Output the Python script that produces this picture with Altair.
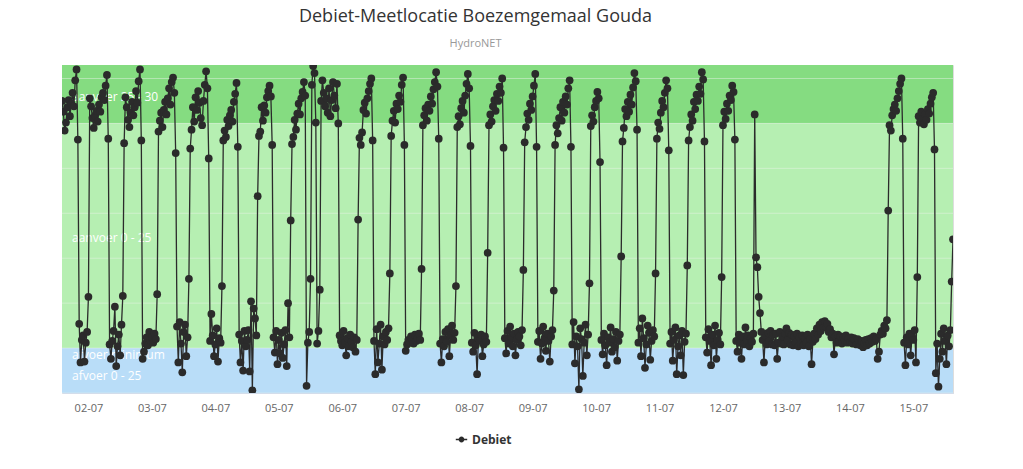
import altair as alt
import pandas as pd

# Debiet (m3/s), half-hourly, starting 01-07 14:00
day_01 = [27.5, 26.3, 24.2, 25.1, 26.8, 27.6, 25.8, 27.2, 28.4, 26.9, 29.8, 31.0,
          23.2, 2.7, -1.6, 0.9, 1.4, -1.5, 0.6, 1.8]
day_02 = [5.7, 27.8, 26.9, 25.6, 24.5, 25.9, 26.4, 25.2, 27.1, 26.3, 27.9, 28.4,
          27.6, 29.2, 30.4, 23.3, 0.4, -1.2, 0.8, 1.9, 4.6, -2.0, 0.2, 1.5,
          -0.8, 2.6, 5.8, 22.8, 27.9, 26.8, 25.4, 24.6, 26.2, 27.4, 25.9, 26.8,
          28.6, 27.3, 29.7, 31.0, 23.1, -1.2, -0.4, 0.5, 1.2, 0.3, 1.8, 0.9]
day_03 = [1.2, 0.6, 1.6, 1.0, 6.0, 24.1, 25.3, 26.2, 24.6, 26.5, 27.4, 26.0,
          27.8, 28.9, 27.1, 29.6, 30.1, 28.4, 21.7, 2.4, -1.6, 2.9, 0.5, -2.7,
          1.8, 2.6, -0.9, 1.2, 7.7, 22.2, 24.3, 26.8, 25.2, 27.9, 26.5, 28.6,
          27.3, 25.6, 24.8, 27.5, 29.3, 30.8, 28.9, 21.1, 0.8, 3.8, 1.4, -0.9]
day_04 = [0.4, 2.2, -1.5, 1.1, 0.6, 6.9, 23.1, 24.2, 23.5, 25.4, 24.7, 25.9,
          26.5, 25.2, 27.4, 28.3, 29.5, 22.4, 1.5, -1.6, 0.8, -2.5, 1.9, 0.2,
          0.9, 2.0, -2.6, 5.2, -4.7, 4.4, 3.3, 1.4, 16.9, 23.6, 24.1, 26.8,
          25.3, 27.0, 26.2, 27.9, 28.6, 29.2, 28.0, 22.6, 1.2, -0.5, 1.9, -1.8]
day_05 = [0.9, -0.6, 1.7, -1.1, 0.4, 2.0, -2.0, 5.0, 1.2, 14.2, 22.7, 23.5,
          25.4, 24.3, 26.1, 27.2, 26.0, 27.8, 28.5, 29.6, 28.1, -4.2, 0.6, 1.8,
          7.7, 29.3, 31.4, 30.6, 25.1, 0.5, 1.9, 6.5, 27.5, 29.8, 28.4, 26.9,
          27.8, 26.2, 28.9, 25.8, 27.6, 29.6, 28.1, 26.7, 29.4, 25.0, 1.4, 0.8]
day_06 = [0.3, 1.9, 0.6, -0.8, 1.1, 0.2, 1.5, 0.7, 0.1, 1.2, -0.4, 0.9,
          14.3, 23.4, 22.6, 24.0, 26.5, 27.3, 26.1, 27.8, 28.6, 29.4, 30.0, 23.1,
          0.8, -2.9, 2.1, -1.6, 0.5, 2.6, -2.4, 1.3, 0.4, 1.8, 0.9, 2.2,
          8.3, 23.6, 25.3, 26.4, 25.1, 27.2, 26.6, 28.1, 27.4, 29.3, 30.1, 22.6]
day_07 = [-0.3, 0.4, 0.9, 0.6, 1.3, 1.0, 0.5, 1.5, 0.8, 1.1, 1.6, 0.9,
          8.8, 24.8, 25.9, 26.7, 25.3, 27.1, 26.4, 28.0, 27.2, 28.8, 29.6, 30.7,
          29.1, 23.3, 0.5, -1.6, 1.0, 0.2, 1.8, 0.7, 2.1, -0.9, 1.4, 2.5,
          0.9, 1.7, 6.9, 24.6, 25.8, 24.9, 26.7, 27.5, 26.2, 28.1, 29.4, 30.5]
day_08 = [28.9, 22.5, 0.6, -0.4, 1.7, 0.3, -2.9, 1.1, 0.8, 1.5, -0.9, 0.4,
          1.3, 0.7, 10.6, 24.8, 26.0, 25.2, 26.9, 27.6, 26.4, 28.3, 27.5, 29.1,
          28.4, 30.0, 22.3, 1.1, -0.6, 1.9, 0.5, 2.4, 1.2, 0.2, 1.6, -0.8,
          0.9, 1.8, 1.3, 0.3, 2.0, 8.7, 22.9, 24.6, 26.1, 25.4, 27.2, 26.5]
day_09 = [28.0, 29.2, 30.5, 22.4, 0.7, 1.9, -1.2, 0.5, 2.4, 1.1, -0.3, 1.6,
          0.8, -1.5, 1.3, 2.0, 6.4, 22.6, 24.8, 23.9, 25.6, 26.8, 25.3, 27.4,
          26.2, 28.0, 27.1, 28.9, 29.8, 22.4, 0.4, 2.9, -1.7, 1.3, 0.2, -4.6,
          2.2, 1.0, -3.1, 0.6, 2.6, -0.8, 1.5, 7.2, 24.7, 25.9, 25.2, 26.8]
day_10 = [27.5, 28.5, 27.8, 20.7, 0.9, -0.7, 1.6, 0.3, -1.9, 1.2, 0.6, 2.3,
          -0.4, 1.0, 0.1, 1.8, -1.4, 0.8, 1.5, 10.2, 23.0, 24.5, 26.6, 25.8,
          27.4, 26.3, 28.2, 27.1, 29.0, 30.6, 29.7, 24.3, 0.6, 2.2, -0.9, 3.3,
          1.1, -2.2, 0.4, 2.5, 1.7, -1.3, 0.8, 2.0, 1.3, 8.3, 23.3, 25.1]
day_11 = [24.4, 26.2, 27.5, 26.8, 28.4, 29.8, 28.9, 22.0, 0.5, 1.8, -1.4, 0.9,
          2.3, -2.9, 0.2, 1.4, -0.8, 1.9, -3.0, 0.7, 1.6, 9.2, 23.1, 24.6,
          26.0, 25.3, 27.4, 26.6, 28.2, 27.5, 29.1, 28.3, 30.7, 29.9, 23.0, 1.2,
          -0.5, 2.1, 0.8, -1.9, 1.5, 0.3, 2.5, -1.2, 0.9, 1.7, 0.4, 7.9]
day_12 = [24.8, 26.3, 25.5, 27.2, 26.4, 28.1, 27.6, 29.2, 28.5, 23.2, 0.8, -0.4,
          1.5, 0.6, -1.2, 1.3, 0.4, 2.3, 0.9, 1.4, 0.2, 1.1, 0.7, 1.6,
          26.0, 10.1, 9.0, 5.7, 3.9, 1.8, 0.9, -1.6, 1.3, 0.4, 1.7, 0.8,
          1.9, 0.4, 1.5, 0.3, 1.6, -1.2, 0.6, 1.8, 0.5, 1.3, 0.4, 1.6]
day_13 = [2.2, 0.9, 1.7, 0.4, 1.5, 0.3, 1.3, 0.6, 1.6, 0.2, 1.2, 0.5,
          1.4, 0.3, 1.1, 0.6, 1.5, 0.2, 1.0, -1.8, 0.7, 1.6, 1.0, 2.2,
          1.5, 2.6, 1.9, 2.9, 2.3, 3.0, 2.4, 2.7, 1.8, 2.1, 1.2, 1.6,
          -0.7, 1.3, 0.6, 1.5, 0.8, 1.3, 0.5, 1.2, 0.9, 1.4, 0.6, 1.1]
day_14 = [0.7, 1.2, 0.5, 1.1, 0.9, 0.4, 1.0, 0.6, 0.3, 0.8, 0.1, 0.5,
          0.9, 0.3, 1.0, 0.5, 1.1, 0.7, 1.3, 0.8, 1.0, -1.2, -0.4, 1.5,
          1.9, 1.6, 2.5, 2.2, 3.1, 15.3, 24.8, 24.2, 25.9, 26.6, 27.1, 26.4,
          27.8, 28.6, 29.4, 30.0, 23.3, 0.6, -1.9, 1.2, 0.4, 1.6, -0.8, 1.3]
day_15 = [0.9, 2.0, -1.6, 7.9, 25.8, 25.1, 26.3, 25.5, 24.9, 26.0, 25.4, 26.6,
          26.1, 27.2, 27.9, 28.4, 22.1, -2.8, 0.5, -4.3, -1.2, 1.6, -0.4, 2.2,
          0.8, -1.8, 1.4, 0.2, 2.0, 7.4, 12.1]

series_name = "Debiet"
start_time = "2019-07-01 14:00"

# plot bands (m3/s)
band_low = [-5, 0, 25]
band_high = [0, 25, 31.5]
band_fill = ["#b9ddf8", "#b6efb2", "#85dc81"]

band_label_text = ["aanvoer 25 - 30", "aanvoer 0 - 25", "afvoer minimum", "afvoer 0 - 25"]
band_label_value = [27.9, 12.2, -0.8, -3.1]

y_ticks = [-5, 0, 5, 10, 15, 20, 25, 30]

W, H = 891, 328
FONT = "Open Sans"

values = (day_01 + day_02 + day_03 + day_04 + day_05 + day_06 + day_07 + day_08
          + day_09 + day_10 + day_11 + day_12 + day_13 + day_14 + day_15)
times = pd.date_range(start_time, periods=len(values), freq="30min")
df = pd.DataFrame({
    "tijd": times.strftime("%Y-%m-%dT%H:%M:%S"),
    "debiet": values,
    "serie": series_name,
})
bands = pd.DataFrame({"lo": band_low, "hi": band_high, "fill": band_fill})
labels = pd.DataFrame({"text": band_label_text, "v": band_label_value})
grid = pd.DataFrame({"v": y_ticks})

yscale = alt.Scale(domain=[-5, 31.5], nice=False, zero=False)
xscale = alt.Scale(domain=[alt.DateTime(year=2019, month=7, date=1, hours=14),
                           alt.DateTime(year=2019, month=7, date=15, hours=15)])

band_layer = alt.Chart(bands).mark_rect().encode(
    x=alt.value(0), x2=alt.value(W),
    y=alt.Y("lo:Q", scale=yscale, axis=None),
    y2="hi:Q",
    fill=alt.Fill("fill:N", scale=None, legend=None),
)

grid_layer = alt.Chart(grid).mark_rule(color="#eef3ee", strokeWidth=1, opacity=0.45).encode(
    x=alt.value(0), x2=alt.value(W),
    y=alt.Y("v:Q", scale=yscale, axis=None),
)

label_layer = alt.Chart(labels).mark_text(
    align="left", baseline="middle", color="white", font=FONT, fontSize=12
).encode(
    x=alt.value(10),
    y=alt.Y("v:Q", scale=yscale, axis=None),
    text="text:N",
)

legend_symbol = "M-1,0L1,0M-0.38,0a0.38,0.38 0 1,0 0.76,0a0.38,0.38 0 1,0 -0.76,0"

line_layer = alt.Chart(df).mark_line(
    strokeWidth=1.3,
    clip=True,
    point=alt.OverlayMarkDef(filled=True, size=60, opacity=1, clip=True),
).encode(
    x=alt.X("tijd:T", scale=xscale, title=None,
            axis=alt.Axis(format="%d-%m", tickCount={"interval": "day", "step": 1},
                          grid=False, ticks=False, domainColor="#ccd6eb",
                          labelColor="#666666", labelFont=FONT, labelFontSize=11,
                          labelPadding=9, labelOverlap=False)),
    y=alt.Y("debiet:Q", scale=yscale, title="m3/s",
            axis=alt.Axis(values=y_ticks, grid=False, ticks=False, domain=False,
                          labelColor="#666666", labelFont=FONT, labelFontSize=11,
                          labelPadding=14, titleColor="#666666", titleFont=FONT,
                          titleFontSize=11, titleFontWeight="normal", titlePadding=14)),
    color=alt.Color("serie:N", scale=alt.Scale(range=["#2b2b2b"]),
                    legend=alt.Legend(title=None, orient="none", legendX=393, legendY=368,
                                      symbolType=legend_symbol, symbolSize=130,
                                      symbolStrokeWidth=1.5, symbolFillColor="#2b2b2b",
                                      symbolStrokeColor="#2b2b2b",
                                      labelFont=FONT, labelFontSize=12, labelFontWeight="bold",
                                      labelColor="#333333")),
)

chart = alt.layer(band_layer, grid_layer, label_layer, line_layer).properties(
    width=W, height=H,
    autosize=alt.AutoSizeParams(type="none"),
    padding={"left": 62, "top": 65, "right": 70, "bottom": 76},
    title=alt.TitleParams(
        text="Debiet-Meetlocatie Boezemgemaal Gouda",
        subtitle="HydroNET",
        anchor="middle", dx=-32, offset=16,
        font=FONT, fontSize=18, fontWeight="normal", color="#333333",
        subtitleFont=FONT, subtitleFontSize=11, subtitleColor="#999999",
        subtitlePadding=12,
    ),
).configure_view(stroke=None).configure(background="white")

chart.save("out.html", embed_options={"renderer": "svg", "actions": False})
